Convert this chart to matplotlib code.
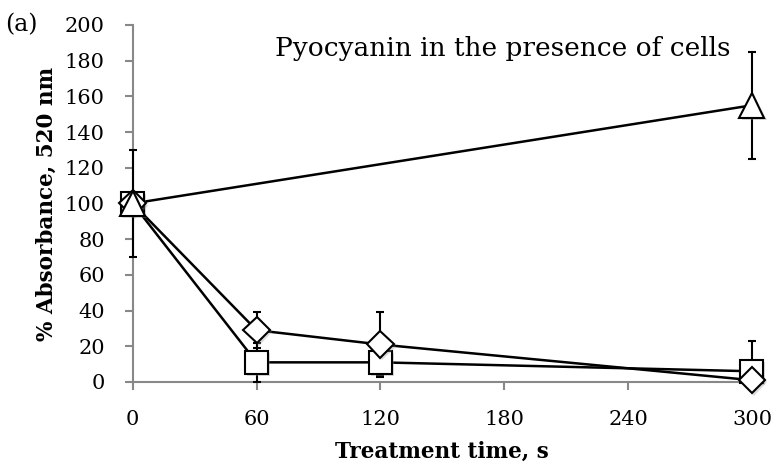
import matplotlib.pyplot as plt
import matplotlib.patheffects as pe

plt.rcParams['font.family'] = ['DejaVu Serif']

# treatment times (s) and % absorbance at 520 nm
time = [0, 60, 120, 300]

tri = [100, None, None, 155]
tri_err = [30, None, None, 30]

diamond = [100, 29, 21, 1]
diamond_err = [0, 10, 18, 0]

square = [100, 11, 11, 6]
square_err = [0, 11, 7.5, 17]

xticks = [0, 60, 120, 180, 240, 300]
yticks = list(range(0, 201, 20))

fig = plt.figure(figsize=(7.76, 4.71), dpi=100)
ax = fig.add_axes([0.171, 0.189, 0.798, 0.758])

shadow = [pe.SimplePatchShadow(offset=(1.5, -1.5), shadow_rgbFace='#999999', alpha=0.35),
          pe.Normal()]

def series(x, y, e, marker, ms):
    pts = [(a, b, c) for a, b, c in zip(x, y, e) if b is not None]
    xs, ys, es = zip(*pts)
    # error bars stop at the x axis
    lower = [min(v, err) for v, err in zip(ys, es)]
    ax.errorbar(xs, ys, yerr=[lower, es], fmt='none', ecolor='black',
                elinewidth=1.5, capsize=3, capthick=1.5, clip_on=False, zorder=3)
    ax.plot(xs, ys, color='black', lw=1.8, clip_on=False, zorder=3)
    ax.plot(xs, ys, ls='none', marker=marker, ms=ms, mfc='white', mec='black',
            mew=1.5, clip_on=False, zorder=4, path_effects=shadow)

series(time, square, square_err, 's', 16.5)
series(time, diamond, diamond_err, 'D', 13.5)
series(time, tri, tri_err, '^', 18)

ax.set_xlim(0, 300)
ax.set_ylim(0, 200)
ax.set_xticks(xticks)
ax.set_yticks(yticks)
ax.tick_params(axis='both', colors='#888888', labelcolor='black',
               labelsize=15, length=6, width=1.5)
ax.tick_params(axis='y', pad=14)
ax.tick_params(axis='x', pad=14)
for s in ['top', 'right']:
    ax.spines[s].set_visible(False)
for s in ['left', 'bottom']:
    ax.spines[s].set_color('#888888')
    ax.spines[s].set_linewidth(1.5)

ax.set_xlabel('Treatment time, s', fontsize=15.5, fontweight='bold', labelpad=9)
ax.set_ylabel('% Absorbance, 520 nm', fontsize=15.5, fontweight='bold', labelpad=5)
fig.text(275 / 776, 1 - 56 / 471, 'Pyocyanin in the presence of cells',
         fontsize=19, va='baseline')
fig.text(0.006, 1 - 31 / 471, '(a)', fontsize=17, va='baseline')

fig.savefig('out.png', dpi=100)
